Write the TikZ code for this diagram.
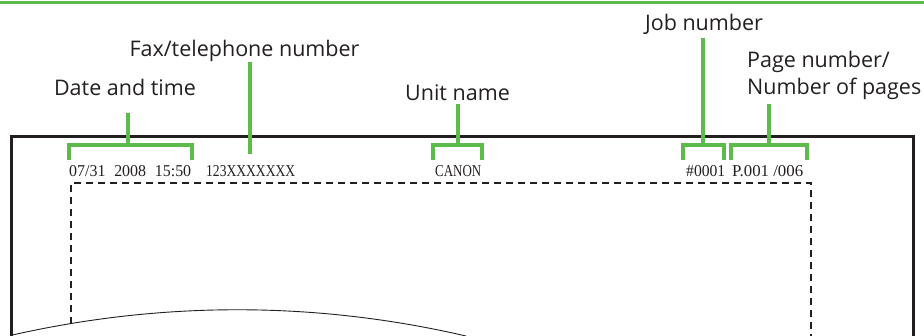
\documentclass[tikz,border=0pt]{standalone}
\usepackage{fontspec}
\usepackage{graphicx}
\setmainfont{Liberation Serif}
\newfontfamily\labfont{Open Sans}
\definecolor{grn}{RGB}{92,187,75}
\definecolor{ink}{RGB}{35,31,32}
\newcommand\mkfit[3]{\resizebox{#1pt}{#2pt}{#3}}
\begin{document}
\begin{tikzpicture}[x=1pt,y=-1pt,
  lab/.style={font=\labfont\fontsize{21.5}{27}\selectfont,text=ink,inner sep=0pt},
  hdr/.style={font=\fontsize{16.6}{18}\selectfont,text=ink,inner sep=0pt,anchor=base west},
  stem/.style={draw=grn,line width=3.6pt},
  brk/.style={draw=grn,line width=3.6pt,line cap=butt,line join=miter},
  knock/.style={draw=white,line width=10pt},
  frame/.style={draw=ink,line width=3pt},
  dash box/.style={draw=ink,line width=1.8pt,dash pattern=on 7pt off 5pt}]
\useasboundingbox (0,0) rectangle (924,335);
% top rule
\draw[draw=grn,line width=3pt] (0,2.5) -- (924,2.5);
% dashed print area
\draw[dash box] (71,336) -- (71,183) -- (811,183) -- (811,336);
% torn edge
\begin{scope}
\clip (11,0) rectangle (924,340);
\fill[white] (8,336) .. controls (160,301) and (315,301) .. (466,336) -- (466,340) -- (8,340) -- cycle;
\draw[draw=ink,line width=0.9pt] (8,336) .. controls (160,301) and (315,301) .. (466,336);
\end{scope}
% paper frame
\draw[frame] (11,336) -- (11,136) -- (913,136) -- (913,336);
% header texts
\node[hdr] (t1) at (69,176) {\mkfit{122}{11}{07/31\hspace{0.55em}2008\hspace{0.55em}15:50}};
\node[hdr] (t2) at (206,176) {\mkfit{89}{11}{123XXXXXXX}};
\node[hdr] (t3) at (435,176) {\mkfit{46}{11}{CANON}};
\node[hdr] (t4) at (686,176) {\mkfit{39}{11}{\#0001}};
\node[hdr] (t5) at (732,176) {\mkfit{71}{11}{P.001 /006}};
% labels
\node[lab,anchor=base] (ldate) at (125,95) {Date and time};
\node[lab,anchor=base] (lfax) at (244.5,56) {Fax/telephone number};
\node[lab,anchor=base] (lunit) at (457.5,100) {Unit name};
\node[lab,anchor=base] (ljob) at (704,30) {Job number};
\node[lab,anchor=base west,align=left] (lpage) at (747,94) {Page number/\\Number of pages};
% stem ends
\coordinate (sdate) at (128,113); \coordinate (bdate) at (128,145);
\coordinate (sfax) at (250,62);   \coordinate (bfax) at (250,154);
\coordinate (sunit) at (458,104); \coordinate (bunit) at (458,145);
\coordinate (sjob) at (703,38);   \coordinate (bjob) at (703,145);
\coordinate (spage) at (769,104); \coordinate (bpage) at (769,145);
% knockouts in frame
\foreach \c in {bdate,bfax,bunit,bjob,bpage}
  \draw[knock] ([yshift=-13pt]\c |- 0,145) -- ([yshift=-4pt]\c |- 0,145);
% stems
\draw[stem] (sdate) -- (bdate);
\draw[stem] (sfax) -- (bfax);
\draw[stem] (sunit) -- (bunit);
\draw[stem] (sjob) -- (bjob);
\draw[stem] (spage) -- (bpage);
% brackets
\draw[brk] (69,160) -- (69,145) -- (192,145) -- (192,160);
\draw[brk] (433,160) -- (433,145) -- (482,145) -- (482,160);
\draw[brk] (683,160) -- (683,145) -- (724,145) -- (724,160);
\draw[brk] (731,160) -- (731,145) -- (807,145) -- (807,160);
\end{tikzpicture}
\end{document}
